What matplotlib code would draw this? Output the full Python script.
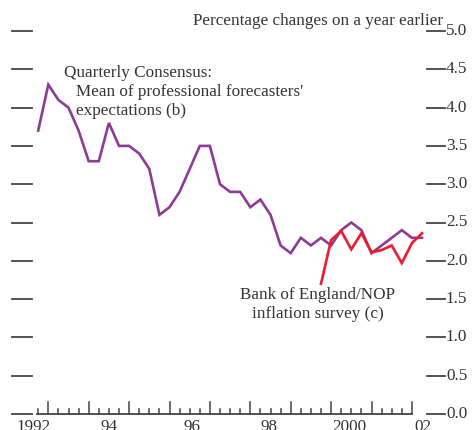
import numpy as np
import matplotlib
matplotlib.use("Agg")
import matplotlib.pyplot as plt
from matplotlib.transforms import blended_transform_factory

# quarterly data, first point 1992 Q4
start_year = 1992.75
consensus = [3.7, 4.3, 4.1, 4.0, 3.7, 3.3, 3.3, 3.8, 3.5, 3.5, 3.4, 3.2,
             2.6, 2.7, 2.9, 3.2, 3.5, 3.5, 3.0, 2.9, 2.9, 2.7, 2.8, 2.6,
             2.2, 2.1, 2.3, 2.2, 2.3, 2.2, 2.4, 2.5, 2.4, 2.1, 2.2, 2.3,
             2.4, 2.3, 2.3]
# Bank of England/NOP survey starts 1999 Q4
boe_start = 1999.75
boe_nop = [1.7, 2.27, 2.39, 2.15, 2.36, 2.11, 2.14, 2.2, 1.97, 2.23, 2.36]

y_ticks = [0.0, 0.5, 1.0, 1.5, 2.0, 2.5, 3.0, 3.5, 4.0, 4.5, 5.0]
x_labels = ["1992", "94", "96", "98", "2000", "02"]
x_label_pos = [1992.64, 1994.5, 1996.55, 1998.47, 2000.44, 2002.27]

W, H = 473, 430
PX_YEAR = 40.4      # pixels per year
X0 = 48.3           # pixel of 1993.0
PX_UNIT = 76.6      # pixels per percentage point
Y0 = 414            # pixel of 0.0
FS = 12.3

fig = plt.figure(figsize=(W / 100, H / 100), dpi=100)
ax = fig.add_axes([0, 0, 1, 1])
ax.set_xlim(1993 - X0 / PX_YEAR, 1993 + (W - X0) / PX_YEAR)
ax.set_ylim(-(H - Y0) / PX_UNIT, Y0 / PX_UNIT)
ax.axis("off")

serif = ["Liberation Serif", "DejaVu Serif"]
txt = "#333333"
purple = "#8d3b96"
red = "#ee1b2e"

x_cons = start_year + 0.25 * np.arange(len(consensus))
x_boe = boe_start + 0.25 * np.arange(len(boe_nop))
ax.plot(x_cons, consensus, color=purple, lw=1.9, solid_joinstyle="miter", zorder=3)
ax.plot(x_boe, boe_nop, color=red, lw=1.9, solid_joinstyle="miter", zorder=4)

# horizontal tick stubs on both sides + right labels
tr = blended_transform_factory(fig.transFigure, ax.transData)
for v in y_ticks:
    ax.plot([12 / W, 32 / W], [v, v], color="#444444", lw=1.3, transform=tr, clip_on=False)
    ax.plot([427 / W, 445 / W], [v, v], color="#444444", lw=1.3, transform=tr, clip_on=False)
    ax.text(446 / W, v, "%.1f" % v, transform=tr, ha="left", va="center",
            fontsize=FS, family=serif, color=txt)

# bottom axis with quarterly ticks
ax.plot([1992.72, 2002.0], [0, 0], color="#444444", lw=1.3)
for q in np.arange(1992.75, 2002.01, 0.25):
    h = 12 if abs(q - round(q)) < 1e-6 else 5
    ax.plot([q, q], [0, h / PX_UNIT], color="#444444", lw=1.1)

for lab, xp in zip(x_labels, x_label_pos):
    ax.text(xp, -5 / PX_UNIT, lab, ha="center", va="top", fontsize=FS,
            family=serif, color=txt)

# annotations
def ftext(x, y, s, **kw):
    fig.text(x / W, 1 - y / H, s, fontsize=FS, family=serif, color=txt, **kw)

ftext(193, 21, "Percentage changes on a year earlier", ha="left", va="center")
ftext(64, 73, "Quarterly Consensus:", ha="left", va="center")
ftext(76, 92, "Mean of professional forecasters'", ha="left", va="center")
ftext(76, 111, "expectations (b)", ha="left", va="center")
ftext(318, 295, "Bank of England/NOP", ha="center", va="center")
ftext(318, 314, "inflation survey (c)", ha="center", va="center")

fig.savefig("out.png", dpi=100)
